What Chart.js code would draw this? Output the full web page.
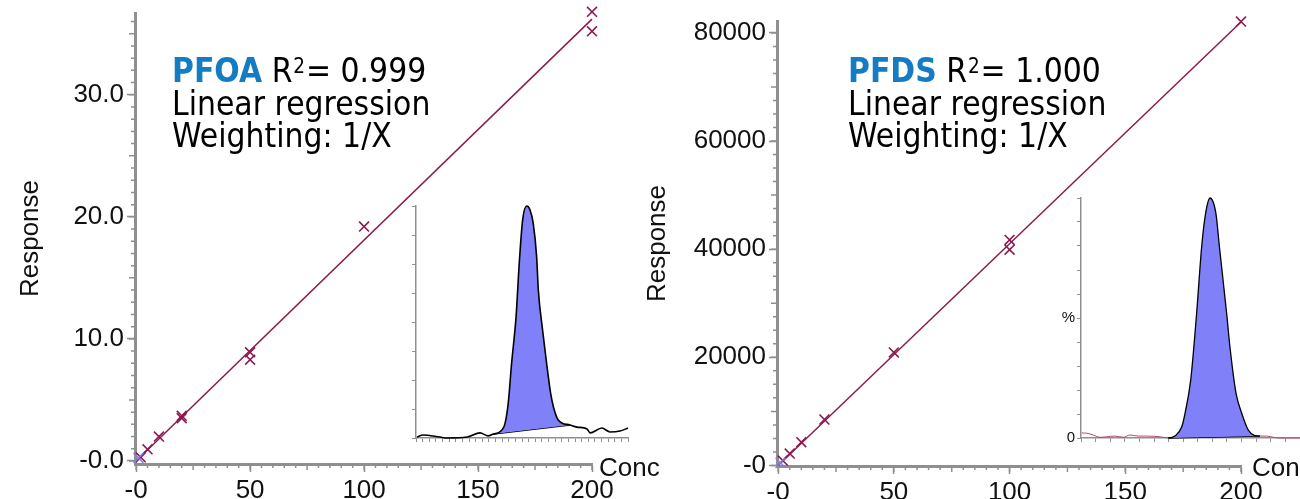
<!DOCTYPE html>
<html>
<head>
<meta charset="utf-8">
<script src="https://cdn.jsdelivr.net/npm/chart.js@4.4.1/dist/chart.umd.min.js"></script>
<style>
  html, body { margin: 0; padding: 0; background: #fff; overflow: hidden; }
  #wrap { position: relative; width: 1300px; height: 499px; }
  canvas { position: absolute; }
</style>
</head>
<body>
<div id="wrap">
  <canvas id="pfoa" width="1300" height="499" style="left:0;top:0"></canvas>
  <canvas id="pfds" width="1300" height="499" style="left:0;top:0"></canvas>
  <canvas id="pfoaPeak" width="226" height="246" style="left:406px;top:202px"></canvas>
  <canvas id="pfdsPeak" width="244" height="254" style="left:1056px;top:194px"></canvas>
</div>
<script>
// calibration data
const concTicks = [0, 50, 100, 150, 200]
const concLabels = ["-0", "50", "100", "150", "200"]

const pfoaConc = [2, 5, 10, 20, 20, 50, 50, 100, 200, 200]
const pfoaResp = [0.3, 0.95, 2.0, 3.5, 3.7, 8.9, 8.3, 19.2, 36.8, 35.2]
const pfoaFlagConc = [1]
const pfoaFlagResp = [0.25]
const pfoaFitConc = [0, 200]
const pfoaFitResp = [0, 36.2]
const pfoaTicks = [0, 10, 20, 30]
const pfoaLabels = ["-0.0", "10.0", "20.0", "30.0"]

const pfdsConc = [2, 5, 10, 20, 50, 100, 100, 200]
const pfdsResp = [900, 2200, 4300, 8500, 20900, 41700, 39900, 82100]
const pfdsFlagConc = [1]
const pfdsFlagResp = [500]
const pfdsFitConc = [0, 200]
const pfdsFitResp = [0, 82000]
const pfdsTicks = [0, 20000, 40000, 60000, 80000]
const pfdsLabels = ["-0", "20000", "40000", "60000", "80000"]

// inset chromatograms (time as % of window, intensity %)
const pfoaTime = [0.5, 3.3, 11.3, 14.6, 24.1, 30.2, 34.0, 36.5, 39.6, 42.0, 43.5, 45.1, 47.2, 48.7, 50.3, 52.2,
  53.8, 55.3, 56.9, 57.7, 59.7, 61.6, 63.5, 64.8, 67.1, 72.6, 75.9, 80.7, 82.1, 87.7, 91.5, 96.2, 100]
const pfoaIntensity = [0.4, 1.3, 0.4, 0, 0.4, 2.2, 0.9, 1.7, 2.7, 6.3, 15, 32.2, 52.3, 75.3, 94, 100,
  98.3, 92.5, 78.2, 63.8, 46.6, 32.2, 19.3, 13.5, 7.8, 5.6, 4.7, 3.9, 2.2, 4.3, 2.6, 3.0, 4.3]
const pfoaBaseTime = [36.5, 72.6]
const pfoaBaseIntensity = [1.7, 5.6]

const pfdsTime = [0.3, 2.6, 5.6, 8.7, 11.7, 15.5, 19.3, 22.4, 26.2, 30.0, 36.1, 39.9, 42.9, 46.0, 47.5, 50.1,
  52.8, 55.1, 56.9, 58.9, 61.6, 63.2, 66.5, 68.0, 70.8, 73.4, 76.4, 81.7, 84.8, 87.8, 90.9, 100]
const pfdsIntensity = [2.1, 2.0, 1.25, 0.3, 0.5, 0.8, 0.3, 1.25, 0.8, 0.8, 0.5, 0, 0.8, 4.7, 10.3, 24.2,
  52, 79.7, 93.6, 100, 93.6, 79.7, 52, 38, 18.6, 10.3, 3.3, 0.8, 0.8, 0.3, 0, 0]
const pfdsBaseTime = [39.9, 81.7]
const pfdsBaseIntensity = [0, 0.8]
const pfdsPeakTicks = [0, 50]
const pfdsPeakLabels = ["0", "%"]

const grey = "#8f8f8f"
const ink = "#111111"
const maroon = "#8b1a50"
const flagColor = "rgba(128, 128, 232, 0.95)"
const peakBlue = "#8080f8"
const pink = "#b04a78"
const sans = "'Liberation Sans', Arial, sans-serif"

Chart.defaults.font.family = sans

const pairs = (xs, ys) => xs.map((x, i) => ({ x: x, y: ys[i] }))
const steps = (a, b, s) => {
  const out = []
  for (let v = a; v <= b + 1e-9; v += s) out.push({ value: v })
  return out
}

// short minor ticks next to the library's major ones
const minorTicks = {
  id: "minorTicks",
  afterDraw(chart, args, opts) {
    const ctx = chart.ctx
    ctx.save()
    ctx.strokeStyle = grey
    ctx.lineWidth = 1.5
    ctx.beginPath()
    for (const key of ["x", "y"]) {
      const m = opts[key]
      const scale = chart.scales[key]
      if (!m || !scale) continue
      const first = Math.ceil(scale.min / m.step) * m.step
      for (let v = first; v <= scale.max + 1e-9; v += m.step) {
        const r = v / m.mid
        const len = Math.abs(r - Math.round(r)) < 1e-6 ? 6 : 4
        const p = scale.getPixelForValue(v)
        if (key === "x") {
          ctx.moveTo(p, scale.top)
          ctx.lineTo(p, scale.top + len)
        } else {
          ctx.moveTo(scale.right, p)
          ctx.lineTo(scale.right - len, p)
        }
      }
    }
    ctx.stroke()
    ctx.restore()
  }
}

// compound name, R2 and fit notes
const caption = {
  id: "caption",
  afterDraw(chart, args, o) {
    const ctx = chart.ctx
    const face = "'DejaVu Sans', Verdana, sans-serif"
    ctx.save()
    ctx.translate(o.x, 0)
    ctx.scale(0.88, 1)
    ctx.textBaseline = "alphabetic"
    ctx.textAlign = "left"
    ctx.font = "bold 34px " + face
    ctx.fillStyle = "#137cc2"
    ctx.fillText(o.name, 0, o.y[0])
    let cx = ctx.measureText(o.name).width
    ctx.font = "34px " + face
    ctx.fillStyle = "#000"
    ctx.fillText(" R", cx, o.y[0])
    cx += ctx.measureText(" R").width + 1
    ctx.font = "21px " + face
    ctx.fillText("2", cx, o.y[0] - 9)
    cx += ctx.measureText("2").width + 1
    ctx.font = "34px " + face
    ctx.fillText("= " + o.r2, cx, o.y[0])
    ctx.fillText("Linear regression", 0, o.y[1])
    ctx.fillText("Weighting: 1/X", 0, o.y[2])
    ctx.restore()
  }
}

const axisEnd = {
  id: "axisEnd",
  afterDraw(chart, args, o) {
    const ctx = chart.ctx
    const xs = chart.scales.x
    ctx.save()
    ctx.font = "26px " + sans
    ctx.fillStyle = ink
    ctx.textBaseline = "alphabetic"
    ctx.fillText(o.text, xs.right + o.dx, o.y)
    ctx.restore()
  }
}

function calibration(id, o) {
  return new Chart(document.getElementById(id), {
    type: "scatter",
    data: {
      datasets: [
        {
          data: pairs(o.fitX, o.fitY),
          showLine: true,
          borderColor: maroon,
          borderWidth: 1.5,
          pointRadius: 0,
          order: 3,
          clip: false
        },
        {
          data: pairs(o.x, o.y),
          pointStyle: "crossRot",
          pointRadius: 7,
          pointBorderColor: maroon,
          pointBorderWidth: 1.6,
          order: 2,
          clip: false
        },
        {
          data: pairs(o.flagX, o.flagY),
          pointStyle: "crossRot",
          pointRadius: 7,
          pointBorderColor: flagColor,
          pointBorderWidth: 1.6,
          order: 1,
          clip: false
        }
      ]
    },
    plugins: [minorTicks, caption, axisEnd],
    options: {
      responsive: false,
      animation: false,
      devicePixelRatio: 1,
      layout: { padding: o.padding },
      plugins: {
        legend: { display: false },
        tooltip: { enabled: false },
        minorTicks: o.minor,
        caption: o.caption,
        axisEnd: { text: "Conc", dx: o.concDx, y: 476 }
      },
      scales: {
        x: {
          type: "linear",
          min: -0.5,
          max: 200,
          afterBuildTicks: s => { s.ticks = concTicks.map(v => ({ value: v })) },
          afterFit: s => { s.height = o.xHeight; s.paddingLeft = 0; s.paddingRight = 0 },
          border: { color: grey, width: 3 },
          grid: { drawOnChartArea: false, tickLength: 8, tickColor: grey, tickWidth: 1.5 },
          ticks: {
            autoSkip: false, maxRotation: 0, padding: 3, color: ink,
            font: { size: 26 },
            callback: (v, i) => concLabels[i]
          }
        },
        y: {
          type: "linear",
          min: o.yMin,
          max: o.yMax,
          afterBuildTicks: s => { s.ticks = o.yTicks.map(v => ({ value: v })) },
          afterFit: s => { s.width = o.yWidth; s.paddingTop = 0; s.paddingBottom = 0 },
          border: { color: grey, width: 3 },
          grid: { drawOnChartArea: false, tickLength: 8, tickColor: grey, tickWidth: 1.5 },
          ticks: {
            autoSkip: false, padding: 3, color: ink,
            font: { size: 26 },
            callback: (v, i) => o.yLabels[i]
          },
          title: {
            display: true,
            text: "Response",
            color: ink,
            font: { size: 26 },
            padding: { top: o.titlePad, bottom: 0 }
          }
        }
      }
    }
  })
}

function chromatogram(id, o) {
  return new Chart(document.getElementById(id), {
    type: "line",
    data: {
      datasets: [
        {
          data: pairs(o.t, o.i),
          borderColor: "#000",
          borderWidth: 1.6,
          pointRadius: 0,
          cubicInterpolationMode: "monotone",
          fill: 1,
          backgroundColor: peakBlue,
          segment: o.segment,
          clip: false
        },
        {
          data: pairs(o.baseT, o.baseI),
          borderColor: "#000",
          borderWidth: 1.3,
          pointRadius: 0,
          fill: false,
          clip: false
        }
      ]
    },
    options: {
      responsive: false,
      animation: false,
      devicePixelRatio: 1,
      layout: { padding: o.padding },
      plugins: { legend: { display: false }, tooltip: { enabled: false } },
      scales: {
        x: {
          type: "linear",
          min: 0,
          max: 100,
          afterBuildTicks: s => { s.ticks = steps(0, 100, o.xStep) },
          afterFit: s => { s.height = 10; s.paddingLeft = 0; s.paddingRight = 0 },
          border: { color: grey, width: 1.5 },
          grid: { drawOnChartArea: false, tickLength: 4, tickColor: grey, tickWidth: 1 },
          ticks: { autoSkip: false, maxRotation: 0, padding: 0, callback: () => "" }
        },
        y: {
          type: "linear",
          min: 0,
          max: 100,
          afterBuildTicks: s => { s.ticks = steps(0, 100, o.yStep) },
          afterFit: s => { s.width = o.yWidth; s.paddingTop = 0; s.paddingBottom = 0 },
          border: { color: grey, width: 1.5 },
          grid: { drawOnChartArea: false, tickLength: 4, tickColor: grey, tickWidth: 1 },
          ticks: {
            autoSkip: false, padding: 2, color: ink,
            font: { size: 15 },
            callback: v => {
              const k = o.labelTicks.indexOf(v)
              return k < 0 ? "" : o.labels[k]
            }
          }
        }
      }
    }
  })
}

calibration("pfoa", {
  x: pfoaConc, y: pfoaResp, flagX: pfoaFlagConc, flagY: pfoaFlagResp,
  fitX: pfoaFitConc, fitY: pfoaFitResp,
  yMin: -0.25, yMax: 36.7, yTicks: pfoaTicks, yLabels: pfoaLabels,
  padding: { left: 0, top: 13, right: 708, bottom: 0 },
  yWidth: 135, xHeight: 35, titlePad: 15, concDx: 7,
  minor: { x: { step: 5, mid: 25 }, y: { step: 1, mid: 5 } },
  caption: { name: "PFOA", r2: "0.999", x: 172, y: [82, 115, 147] }
})

calibration("pfds", {
  x: pfdsConc, y: pfdsResp, flagX: pfdsFlagConc, flagY: pfdsFlagResp,
  fitX: pfdsFitConc, fitY: pfdsFitResp,
  yMin: -100, yMax: 82200, yTicks: pfdsTicks, yLabels: pfdsLabels,
  padding: { left: 640, top: 21, right: 59, bottom: 0 },
  yWidth: 137, xHeight: 33, titlePad: 2, concDx: 11,
  minor: { x: { step: 5, mid: 25 }, y: { step: 2500, mid: 10000 } },
  caption: { name: "PFDS", r2: "1.000", x: 848, y: [82, 115, 147] }
})

chromatogram("pfoaPeak", {
  t: pfoaTime, i: pfoaIntensity, baseT: pfoaBaseTime, baseI: pfoaBaseIntensity,
  padding: { left: 0, top: 4, right: 4, bottom: 0 },
  xStep: 100 / 32, yStep: 12.5, yWidth: 10, labelTicks: [], labels: []
})

chromatogram("pfdsPeak", {
  t: pfdsTime, i: pfdsIntensity, baseT: pfdsBaseTime, baseI: pfdsBaseIntensity,
  padding: { left: 0, top: 4, right: 0, bottom: 0 },
  xStep: 100 / 15, yStep: 10, yWidth: 25, labelTicks: pfdsPeakTicks, labels: pfdsPeakLabels,
  segment: {
    borderColor: c => (c.p0.parsed.x >= pfdsBaseTime[0] && c.p1.parsed.x <= pfdsBaseTime[1]) ? "#000" : pink,
    borderWidth: c => (c.p0.parsed.x >= pfdsBaseTime[0] && c.p1.parsed.x <= pfdsBaseTime[1]) ? 1.3 : 1
  }
})
</script>
</body>
</html>
